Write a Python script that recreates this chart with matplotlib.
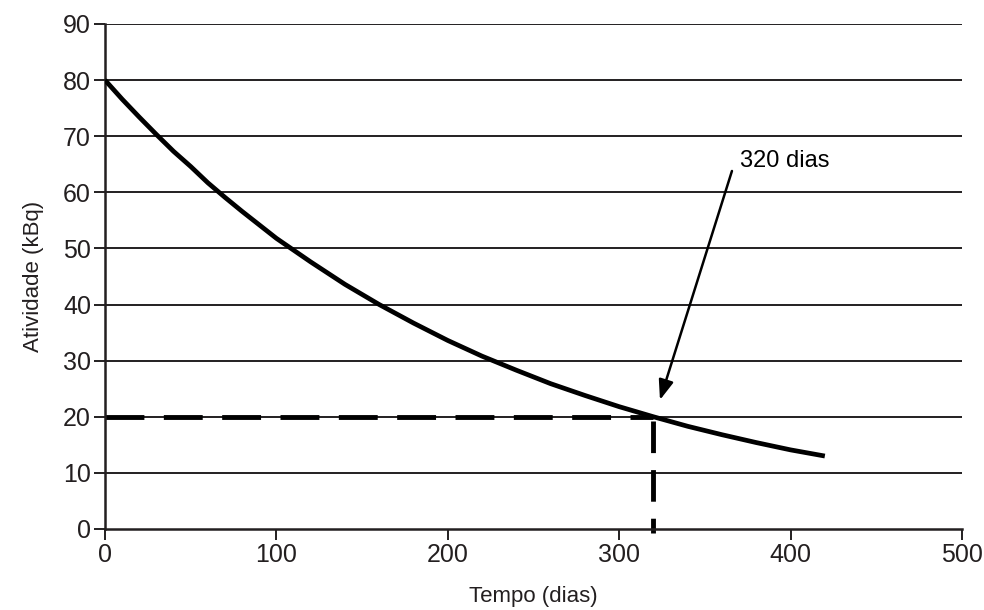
import numpy as np
import matplotlib.pyplot as plt

# decay curve (days, kBq)
tempo = [0, 10, 20, 30, 40, 50, 60, 70, 80, 90, 100, 120, 140, 160, 180, 200,
         220, 240, 260, 280, 300, 320, 340, 360, 380, 400, 420]
atividade = [80, 76.6, 73.4, 70.3, 67.3, 64.6, 61.7, 59.1, 56.6, 54.2, 51.8,
             47.6, 43.6, 40, 36.7, 33.6, 30.8, 28.3, 25.9, 23.8, 21.8, 20,
             18.3, 16.8, 15.4, 14.1, 13.0]

meia_t = 320
meia_a = 20

xticks = [0, 100, 200, 300, 400, 500]
yticks = [0, 10, 20, 30, 40, 50, 60, 70, 80, 90]

plt.rcParams['font.family'] = ['Liberation Sans', 'DejaVu Sans']

fig = plt.figure(figsize=(9.84, 6.1), dpi=100)
ax = fig.add_axes([0.1067, 0.1328, 0.8709, 0.8279])

for y in yticks[1:]:
    ax.axhline(y, color='#231f20', lw=1.4, zorder=1)

ax.plot(tempo, atividade, color='black', lw=3.4, solid_capstyle='butt',
        solid_joinstyle='round', zorder=3)

ax.plot([0, meia_t], [meia_a, meia_a], color='black', lw=3.5,
        dashes=(8, 4), zorder=2)
ax.plot([meia_t, meia_t], [meia_a - 0.8, -0.8], color='black', lw=3.5,
        dashes=(6.5, 3.5), zorder=2, clip_on=False)

ax.annotate('', xy=(323.8, 23.0), xytext=(365.8, 63.8),
            arrowprops=dict(arrowstyle='-|>,head_length=1.2,head_width=0.45',
                            color='black', lw=1.8, shrinkA=0, shrinkB=0))
ax.text(370.5, 65.5, '320 dias', fontsize=17, ha='left', va='center')

ax.set_xlim(0, 500)
ax.set_ylim(0, 90)
ax.set_xticks(xticks)
ax.set_yticks(yticks)
ax.tick_params(axis='both', labelsize=18, length=8, width=1.4, color='#231f20',
               labelcolor='#231f20', direction='out', pad=2)

for s in ['top', 'right']:
    ax.spines[s].set_visible(False)
for s in ['left', 'bottom']:
    ax.spines[s].set_linewidth(1.8)
    ax.spines[s].set_color('#231f20')

ax.set_xlabel('Tempo (dias)', fontsize=16, labelpad=14, color='#231f20')
ax.set_ylabel('Atividade (kBq)', fontsize=16, labelpad=14, color='#231f20')

fig.savefig('out.png', dpi=100)
